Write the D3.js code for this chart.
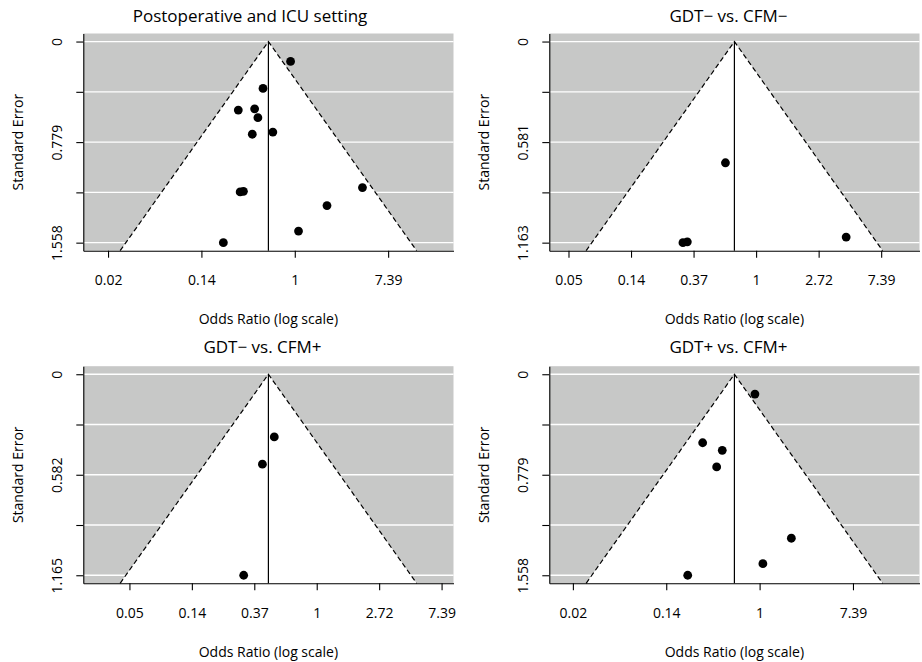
<!DOCTYPE html>
<html>
<head>
<meta charset="utf-8">
<script src="https://cdn.jsdelivr.net/npm/d3@7"></script>
<style>
    body { margin: 0; background: #fff; }
    svg text { font-family: "Open Sans", sans-serif; fill: #000; }
</style>
</head>
<body>
<div id="chart"></div>
<script>
// panel titles
var titles = ["Postoperative and ICU setting", "GDT\u2212 vs. CFM\u2212", "GDT\u2212 vs. CFM+", "GDT+ vs. CFM+"];

var yiICU = [-0.09, -0.68, -1.21, -0.86, -0.79, -0.47, -0.91, -1.17, -1.10, 1.45, 0.69, 0.08, -1.53];
var seiICU = [0.154, 0.363, 0.531, 0.521, 0.590, 0.701, 0.718, 1.165, 1.160, 1.131, 1.271, 1.468, 1.558];

var yiNegNeg = [-0.49, -1.17, -1.10, 1.44];
var seiNegNeg = [0.701, 1.163, 1.158, 1.131];

var yiNegPos = [-0.68, -0.87, -1.17];
var seiNegPos = [0.363, 0.521, 1.165];

var yiPosPos = [-0.10, -1.22, -0.80, -0.92, 0.68, 0.07, -1.54];
var seiPosPos = [0.154, 0.531, 0.590, 0.718, 1.271, 1.468, 1.558];

// pooled estimates (log OR), where the vertical line sits
var estimates = [-0.565, -0.347, -0.774, -0.54];

// x ticks (log scale) and their labels
var xTicksWide = [-4, -2, 0, 2];
var xLabelsWide = ["0.02", "0.14", "1", "7.39"];
var xTicksNarrow = [-3, -2, -1, 0, 1, 2];
var xLabelsNarrow = ["0.05", "0.14", "0.37", "1", "2.72", "7.39"];

// y tick labels (every other tick is labelled)
var yLabels = [["0", "0.779", "1.558"], ["0", "0.581", "1.163"], ["0", "0.582", "1.165"], ["0", "0.779", "1.558"]];

var w = 922;
var h = 662;
var gray = "#c7c8c7";

var svg = d3.select("#chart")
    .append("svg")
    .attr("width", w)
    .attr("height", h);

var panels = [
    { yi: yiICU, sei: seiICU, xt: xTicksWide, xl: xLabelsWide, left: 83.3, right: 453.5, top: 33.5, bottom: 250.7, titleX: 250, titleY: 21.7 },
    { yi: yiNegNeg, sei: seiNegNeg, xt: xTicksNarrow, xl: xLabelsNarrow, left: 549.3, right: 919.5, top: 33.5, bottom: 250.7, titleX: 728.5, titleY: 21.7 },
    { yi: yiNegPos, sei: seiNegPos, xt: xTicksNarrow, xl: xLabelsNarrow, left: 83.3, right: 453.5, top: 366.2, bottom: 583.3, titleX: 262.5, titleY: 353.3 },
    { yi: yiPosPos, sei: seiPosPos, xt: xTicksWide, xl: xLabelsWide, left: 549.3, right: 919.5, top: 366.2, bottom: 583.3, titleX: 728.5, titleY: 353.3 }
];

panels.forEach(function (p, i) {
    funnel(p, i);
});

function funnel(p, idx) {
    var est = estimates[idx];
    var m = d3.max(p.sei);
    var yb = 1.04 * m;       // bottom of the plotting region
    var half = 2.545 * m;    // x limits around the estimate

    var x = d3.scaleLinear().domain([est - half, est + half]).range([p.left, p.right]);
    var y = d3.scaleLinear().domain([-0.04 * m, yb]).range([p.top, p.bottom]);

    var g = svg.append("g");

    g.append("rect")
        .attr("x", p.left)
        .attr("y", p.top)
        .attr("width", p.right - p.left)
        .attr("height", p.bottom - p.top)
        .attr("fill", gray);

    var yt = d3.range(5).map(function (i) { return i * m / 4; });

    g.selectAll(".grid")
        .data(yt)
        .enter()
        .append("line")
        .attr("x1", p.left)
        .attr("x2", p.right)
        .attr("y1", function (d) { return y(d); })
        .attr("y2", function (d) { return y(d); })
        .attr("stroke", "#fff")
        .attr("stroke-width", 1.3);

    var tri = [[est - 1.96 * yb, yb], [est, 0], [est + 1.96 * yb, yb]];
    var line = d3.line()
        .x(function (d) { return x(d[0]); })
        .y(function (d) { return y(d[1]); });

    g.append("path")
        .attr("d", line(tri) + "Z")
        .attr("fill", "#fff");

    g.append("path")
        .attr("d", line(tri))
        .attr("fill", "none")
        .attr("stroke", "#000")
        .attr("stroke-width", 1.2)
        .attr("stroke-dasharray", "5,3");

    g.append("line")
        .attr("x1", x(est))
        .attr("x2", x(est))
        .attr("y1", y(0))
        .attr("y2", y(yb))
        .attr("stroke", "#000")
        .attr("stroke-width", 1.2);

    g.selectAll("circle")
        .data(p.yi)
        .enter()
        .append("circle")
        .attr("cx", function (d) { return x(d); })
        .attr("cy", function (d, i) { return y(p.sei[i]); })
        .attr("r", 4.4)
        .attr("fill", "#000");

    // axes
    var xAxis = g.append("g")
        .attr("transform", "translate(0," + p.bottom + ")")
        .call(d3.axisBottom(x)
            .tickValues(p.xt)
            .tickFormat(function (d, i) { return p.xl[i]; })
            .tickSize(7)
            .tickSizeOuter(0));
    xAxis.selectAll("text")
        .attr("y", 34.3)
        .attr("dy", null)
        .attr("font-size", "14px");

    var yAxis = g.append("g")
        .attr("transform", "translate(" + p.left + ",0)")
        .call(d3.axisLeft(y)
            .tickValues(yt)
            .tickFormat(function (d, i) { return i % 2 === 0 ? yLabels[idx][i / 2] : ""; })
            .tickSize(7)
            .tickSizeOuter(0));
    yAxis.selectAll("text")
        .attr("x", 0)
        .attr("y", -21.6)
        .attr("dy", null)
        .attr("transform", "rotate(-90)")
        .attr("text-anchor", "middle")
        .attr("font-size", "14px");
    g.selectAll(".domain, .tick line").attr("stroke", "#000").attr("stroke-width", 1.1);

    // labels
    g.append("text")
        .attr("x", (p.left + p.right) / 2)
        .attr("y", p.bottom + 73.3)
        .attr("text-anchor", "middle")
        .attr("font-size", "14px")
        .text("Odds Ratio (log scale)");

    var cy = (p.top + p.bottom) / 2;
    g.append("text")
        .attr("transform", "translate(" + (p.left - 60) + "," + cy + ") rotate(-90)")
        .attr("text-anchor", "middle")
        .attr("font-size", "14px")
        .text("Standard Error");

    g.append("text")
        .attr("x", p.titleX)
        .attr("y", p.titleY)
        .attr("text-anchor", "middle")
        .attr("font-size", "17px")
        .text(titles[idx]);
}
</script>
</body>
</html>
